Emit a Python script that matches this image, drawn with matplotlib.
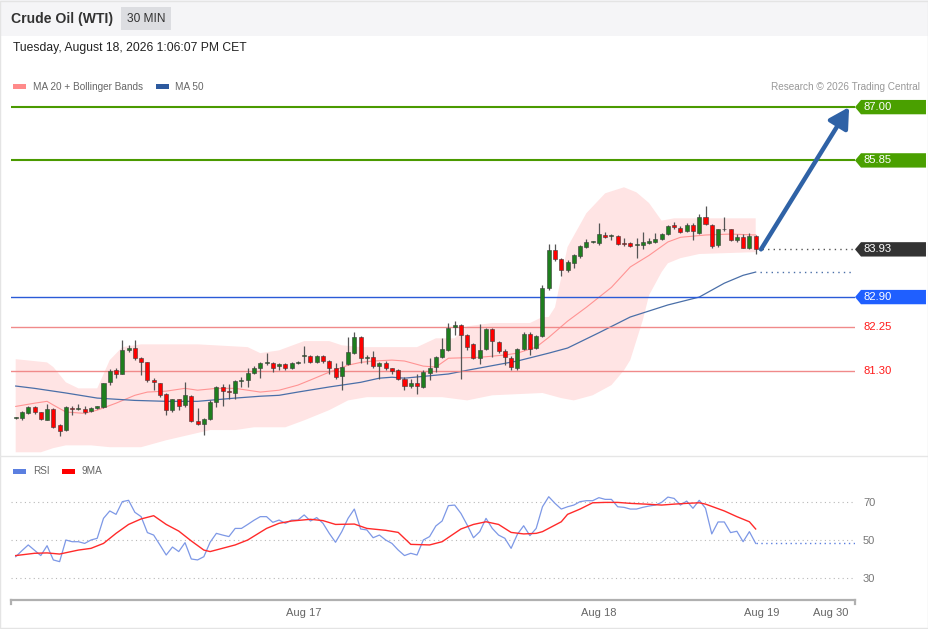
import numpy as np
import matplotlib
matplotlib.use('Agg')
import matplotlib.pyplot as plt
from matplotlib.patches import Polygon, Rectangle

plt.rcParams['font.family'] = ['Liberation Sans', 'DejaVu Sans']

# ---- 30 min candles ----
opens = [80.29, 80.28, 80.39, 80.53, 80.41, 80.25, 80.48, 80.14, 80.03, 80.51,
         80.49, 80.48, 80.44, 80.51, 80.53, 81.06, 81.32, 81.25, 81.76, 81.81,
         81.58, 81.49, 81.12, 81.04, 80.80, 80.46, 80.69, 80.57, 80.76, 80.23,
         80.17, 80.26, 80.64, 80.95, 80.87, 80.83, 81.09, 81.12, 81.26, 81.37,
         81.48, 81.48, 81.41, 81.45, 81.37, 81.48, 81.62, 81.62, 81.50, 81.62,
         81.52, 81.36, 81.19, 81.45, 81.70, 82.03, 81.59, 81.61, 81.41, 81.48,
         81.36, 81.32, 81.14, 80.99, 81.04, 80.96, 81.27, 81.40, 81.61, 81.76,
         82.25, 82.29, 82.09, 81.88, 81.59, 81.78, 82.22, 81.93, 81.73, 81.59,
         81.37, 81.78, 82.11, 81.81, 82.06, 83.09, 83.91, 83.73, 83.48, 83.64,
         83.78, 83.98, 84.08, 84.07, 84.24, 84.21, 84.21, 84.06, 84.06, 84.02,
         84.03, 84.07, 84.09, 84.16, 84.26, 84.45, 84.40, 84.33, 84.45, 84.29,
         84.63, 84.45, 84.02, 84.36, 84.36, 84.14, 84.19, 83.95, 84.21]
highs = [80.31, 80.44, 80.55, 80.55, 80.42, 80.60, 80.51, 80.17, 80.55, 80.55,
         80.60, 80.55, 80.53, 80.55, 81.05, 81.34, 81.36, 81.97, 81.86, 81.97,
         81.61, 81.50, 81.16, 81.05, 80.82, 80.71, 80.71, 81.07, 80.79, 80.50,
         80.30, 80.67, 80.98, 81.03, 81.03, 81.11, 81.18, 81.37, 81.41, 81.50,
         81.70, 81.50, 81.48, 81.48, 81.50, 81.52, 81.84, 81.64, 81.64, 81.64,
         81.54, 81.48, 81.52, 82.04, 82.15, 82.05, 81.64, 81.74, 81.50, 81.52,
         81.37, 81.35, 81.18, 81.13, 81.25, 81.32, 81.59, 81.63, 82.02, 82.35,
         82.38, 82.31, 82.11, 81.90, 82.31, 82.24, 82.24, 81.95, 81.79, 81.63,
         81.81, 82.14, 82.14, 82.09, 83.17, 84.04, 84.04, 83.75, 83.70, 83.84,
         84.02, 84.16, 84.11, 84.50, 84.31, 84.27, 84.24, 84.17, 84.09, 84.17,
         84.31, 84.17, 84.29, 84.29, 84.45, 84.52, 84.43, 84.49, 84.49, 84.70,
         84.86, 84.47, 84.38, 84.62, 84.38, 84.27, 84.27, 84.29, 84.24]
lows = [80.27, 80.25, 80.37, 80.38, 80.25, 80.24, 80.07, 79.91, 80.01, 80.35,
        80.46, 80.38, 80.42, 80.48, 80.51, 81.00, 81.16, 81.23, 81.72, 81.54,
        81.22, 81.07, 80.89, 80.75, 80.35, 80.42, 80.46, 80.53, 80.20, 80.14,
        79.92, 80.24, 80.52, 80.54, 80.71, 80.71, 80.96, 80.96, 81.23, 81.16,
        81.43, 81.28, 81.32, 81.32, 81.34, 81.45, 81.48, 81.48, 81.48, 81.48,
        81.23, 81.14, 80.90, 81.43, 81.68, 81.48, 81.45, 81.36, 81.14, 81.32,
        81.23, 81.11, 80.89, 80.94, 80.80, 80.93, 81.11, 81.29, 81.59, 81.73,
        82.08, 81.13, 81.76, 81.56, 81.45, 81.76, 81.61, 81.70, 81.43, 81.33,
        81.33, 81.76, 81.65, 81.78, 82.04, 83.05, 83.68, 83.36, 83.45, 83.52,
        83.75, 83.96, 84.06, 84.02, 84.17, 84.13, 84.02, 84.00, 83.98, 83.75,
        83.93, 84.04, 84.06, 84.14, 84.24, 84.38, 84.29, 84.31, 84.14, 84.27,
        84.45, 83.97, 83.98, 84.33, 84.11, 84.09, 83.95, 83.93, 83.84]
closes = [80.30, 80.41, 80.53, 80.42, 80.27, 80.48, 80.09, 80.02, 80.53, 80.49,
          80.50, 80.43, 80.50, 80.54, 81.04, 81.31, 81.25, 81.76, 81.81, 81.58,
          81.49, 81.12, 81.06, 80.79, 80.46, 80.69, 80.55, 80.79, 80.22, 80.17,
          80.26, 80.64, 80.95, 80.87, 80.85, 81.09, 81.12, 81.26, 81.37, 81.48,
          81.49, 81.37, 81.45, 81.38, 81.48, 81.49, 81.62, 81.50, 81.62, 81.52,
          81.36, 81.18, 81.39, 81.72, 82.04, 81.59, 81.60, 81.41, 81.48, 81.36,
          81.31, 81.13, 80.99, 81.04, 80.99, 81.29, 81.37, 81.61, 81.78, 82.24,
          82.29, 82.09, 81.83, 81.59, 81.75, 82.21, 81.95, 81.73, 81.61, 81.40,
          81.78, 82.11, 81.79, 82.06, 83.10, 83.91, 83.72, 83.48, 83.66, 83.80,
          84.00, 84.09, 84.09, 84.26, 84.20, 84.21, 84.04, 84.04, 84.00, 84.02,
          84.09, 84.11, 84.16, 84.26, 84.43, 84.42, 84.31, 84.45, 84.33, 84.63,
          84.47, 84.00, 84.36, 84.36, 84.14, 84.20, 83.97, 84.21, 83.93]

# ---- indicators, sampled at candle index ----
bb_up_idx = [0, 5, 6, 8, 10, 13, 15, 17, 20, 29, 37, 39, 42, 46, 50, 52, 55, 64, 67, 70,
             72, 76, 82, 84, 85, 86, 88, 91, 94, 97, 99, 101, 103, 105, 118]
bb_up = [81.56, 81.49, 81.39, 81.06, 80.93, 80.93, 81.54, 81.82, 81.88, 81.88, 81.82,
         81.69, 81.75, 81.95, 81.95, 81.86, 81.82, 81.82, 82.01, 82.01, 82.27, 82.34,
         82.34, 82.47, 82.47, 82.68, 83.98, 84.71, 85.14, 85.27, 85.16, 84.93, 84.55,
         84.60, 84.60]
bb_lo_idx = [0, 4, 6, 8, 12, 15, 20, 24, 31, 35, 38, 43, 46, 50, 53, 56, 68, 72, 76, 84,
             87, 89, 92, 95, 97, 98, 100, 101, 103, 104, 106, 109, 118]
bb_lo = [79.55, 79.55, 79.64, 79.70, 79.70, 79.66, 79.66, 79.81, 80.03, 80.03, 80.09,
         80.09, 80.24, 80.46, 80.67, 80.74, 80.74, 80.67, 80.78, 80.83, 80.72, 80.67,
         80.78, 81.00, 81.32, 81.54, 82.40, 82.94, 83.44, 83.63, 83.74, 83.83, 83.87]
ma20_idx = [0, 3, 5, 6, 8, 11, 13, 16, 19, 21, 24, 27, 29, 32, 35, 37, 39, 42, 45, 47,
            50, 53, 55, 57, 60, 62, 65, 67, 69, 74, 78, 80, 83, 85, 88, 91, 95, 98, 101,
            104, 106, 110, 114, 118]
ma20 = [80.54, 80.61, 80.65, 80.57, 80.42, 80.39, 80.46, 80.61, 80.78, 80.85, 80.87,
        80.93, 80.89, 80.93, 80.93, 80.89, 80.85, 80.89, 81.00, 81.11, 81.28, 81.43,
        81.49, 81.52, 81.54, 81.52, 81.41, 81.39, 81.58, 81.60, 81.65, 81.69, 81.82,
        82.03, 82.38, 82.68, 83.11, 83.55, 83.80, 84.09, 84.19, 84.24, 84.26, 84.24]
ma50_idx = [0, 3, 8, 13, 19, 24, 29, 35, 39, 42, 45, 50, 55, 58, 60, 62, 69, 72, 80, 85,
            88, 93, 98, 104, 109, 113, 116, 118]
ma50 = [80.98, 80.93, 80.83, 80.72, 80.67, 80.65, 80.65, 80.72, 80.76, 80.78, 80.85,
        80.96, 81.06, 81.15, 81.17, 81.15, 81.24, 81.32, 81.52, 81.69, 81.80, 82.13,
        82.47, 82.73, 82.90, 83.20, 83.37, 83.44]

rsi = [41.2, 44.4, 47.4, 44.6, 41.8, 47.0, 39.5, 38.6, 50.0, 49.1,
       49.1, 48.2, 50.0, 50.9, 61.4, 65.3, 63.5, 70.2, 70.9, 64.6,
       62.3, 53.9, 52.6, 47.4, 42.1, 46.3, 43.9, 48.6, 40.0, 39.5,
       41.2, 48.8, 53.5, 52.6, 51.8, 56.1, 56.1, 58.2, 60.4, 62.3,
       62.3, 59.3, 60.5, 58.8, 60.5, 60.5, 63.2, 60.0, 61.8, 58.8,
       53.5, 48.8, 54.4, 61.4, 66.3, 55.8, 55.3, 51.2, 52.6, 50.0,
       48.2, 44.7, 41.8, 43.0, 42.1, 50.0, 51.8, 57.4, 60.0, 68.1,
       68.4, 64.0, 57.9, 51.2, 54.4, 61.4, 56.1, 52.6, 50.9, 45.6,
       53.0, 57.5, 52.3, 56.1, 67.5, 72.8, 69.3, 66.3, 67.5, 68.4,
       70.2, 70.7, 70.7, 72.3, 71.4, 71.4, 67.5, 67.2, 66.3, 66.3,
       67.2, 67.9, 68.4, 69.8, 72.6, 71.9, 68.4, 70.5, 66.7, 70.9,
       66.7, 53.2, 59.5, 59.5, 53.9, 54.6, 49.1, 54.4, 48.2]
ma9_idx = [0, 3, 5, 7, 10, 12, 14, 16, 18, 20, 22, 24, 26, 28, 30, 31, 35, 37, 40, 42,
           44, 47, 49, 51, 54, 56, 59, 61, 63, 66, 68, 71, 73, 75, 77, 79, 81, 83, 84,
           87, 88, 90, 92, 94, 96, 98, 101, 103, 105, 107, 109, 110, 113, 115, 117, 118]
ma9 = [41.8, 43.0, 43.2, 42.6, 44.7, 45.6, 48.2, 53.5, 58.2, 61.1, 62.8, 58.2, 54.7,
       49.5, 44.7, 43.9, 47.4, 50.0, 56.1, 58.8, 60.0, 60.9, 60.2, 58.2, 58.4, 56.1,
       55.1, 54.0, 47.7, 47.4, 49.1, 55.8, 58.2, 59.6, 58.2, 54.0, 53.2, 53.5, 54.4,
       59.6, 63.5, 66.3, 69.6, 69.8, 69.8, 69.3, 68.8, 68.4, 68.9, 69.3, 69.6, 68.9,
       65.3, 62.3, 59.6, 55.8]

# key levels
resist = [87.00, 85.85]
pivot = 82.90
support = [82.25, 81.30]
target = 87.00

tick_pos = [46, 93, 119, 130]
tick_labels = ['Aug 17', 'Aug 18', 'Aug 19', 'Aug 30']

n = len(closes)
idx = np.arange(n)
last = n - 1
xmin, xmax = -0.75, 133.84

fig = plt.figure(figsize=(9.29, 6.29), dpi=100)

# decoration layer in pixel coords
deco = fig.add_axes([0, 0, 1, 1], zorder=0)
deco.set_xlim(0, 929)
deco.set_ylim(629, 0)
deco.axis('off')
deco.add_patch(Rectangle((0, 0), 929, 36, color='#f5f5f7', lw=0))
deco.add_patch(Rectangle((121, 7), 50, 23, color='#dcdde1', lw=0))
deco.text(11, 19, 'Crude Oil (WTI)', fontsize=10.1, fontweight='bold', color='#333333', va='center')
deco.text(146, 19, '30 MIN', fontsize=8.6, color='#333333', va='center', ha='center')
deco.text(13, 48.5, 'Tuesday, August 18, 2026 1:06:07 PM CET', fontsize=8.75, color='#222222', va='center')
deco.add_patch(Rectangle((13, 84), 13, 4.5, color='#ff8a8a', lw=0))
deco.text(33, 86.5, 'MA 20 + Bollinger Bands', fontsize=7.2, color='#666666', va='center')
deco.add_patch(Rectangle((156, 84), 13, 4.5, color='#2d5a9e', lw=0))
deco.text(175, 86.5, 'MA 50', fontsize=7.2, color='#666666', va='center')
deco.text(920, 86.5, 'Research \u00a9 2026 Trading Central', fontsize=7.2, color='#999999', va='center', ha='right')
deco.add_patch(Rectangle((13, 469), 13, 4.5, color='#5b7fe0', lw=0))
deco.text(33, 471.5, 'RSI', fontsize=7.2, color='#666666', va='center')
deco.add_patch(Rectangle((62, 469), 13, 4.5, color='#ff0000', lw=0))
deco.text(82, 471.5, '9MA', fontsize=7.2, color='#666666', va='center')
deco.plot([0, 929], [456, 456], color='#e6e6e6', lw=1)
deco.add_patch(Rectangle((0.5, 0.5), 928, 627, fill=False, ec='#e4e4e4', lw=1))

# ---- main price panel ----
ax = fig.add_axes([11 / 929, 1 - 456 / 629, 844 / 929, 360 / 629], zorder=2)
ax.patch.set_alpha(0)
ax.set_xlim(xmin, xmax)
ax.set_ylim(79.47, 87.24)
ax.axis('off')

ax.fill(np.r_[bb_up_idx, bb_lo_idx[::-1]], np.r_[bb_up, bb_lo[::-1]], color='#ffe4e4', lw=0, zorder=1)
ax.plot(ma20_idx, ma20, color='#ff9494', lw=0.8, zorder=2)
ax.plot(ma50_idx, ma50, color='#4a6fa8', lw=0.9, zorder=2)

for v in resist:
    ax.axhline(v, color='#4a9a00', lw=1.5, zorder=2)
ax.axhline(pivot, color='#2a5bd7', lw=1, zorder=2)
for v in support:
    ax.axhline(v, color='#f08a8a', lw=1, zorder=2)

o = np.array(opens)
c = np.array(closes)
up = c >= o
cols = np.where(up, '#1e7e1e', '#ff0000')
ax.vlines(idx, lows, highs, color='#555555', lw=0.9, zorder=3)
ax.bar(idx, np.maximum(np.abs(c - o), 0.02), bottom=np.minimum(o, c), width=0.64,
       color=cols, edgecolor='#3a3a3a', linewidth=0.4, zorder=4)

# projections past the last candle
ax.plot([last + 1, xmax], [closes[-1]] * 2, color='#555555', ls=(0, (1, 3)), lw=1, zorder=3)
ax.plot([last + 0.7, xmax - 0.3], [ma50[-1]] * 2, color='#4a6fa8', ls=(0, (1, 3)), lw=1, zorder=3)
ax.annotate('', xy=(132.9, target), xytext=(last + 0.85, closes[-1]),
            arrowprops=dict(arrowstyle='-|>,head_length=0.75,head_width=0.42', color='#2f62a6',
                            lw=3.2, shrinkA=0, shrinkB=0, mutation_scale=16), zorder=6)

# right side price tags
tr = ax.get_yaxis_transform()
h = 0.155
x0, x1, x2 = 1.0, 1.0071, 1.0841
tags = [(resist[0], '#4aa000'), (resist[1], '#4aa000'), (closes[-1], '#333333'), (pivot, '#1f5fff')]
for v, col in tags:
    ax.add_patch(Polygon([(x0, v), (x1, v + h), (x2, v + h), (x2, v - h), (x1, v - h)],
                         closed=True, color=col, transform=tr, clip_on=False, lw=0))
    ax.text(1.0095, v, f'{v:.2f}', transform=tr, color='white', fontsize=8.1, va='center', clip_on=False)
for v in support:
    ax.text(1.0095, v, f'{v:.2f}', transform=tr, color='#ff1a1a', fontsize=8.1, va='center', clip_on=False)

# ---- RSI panel ----
rax = fig.add_axes([11 / 929, 1 - 600 / 629, 844 / 929, 120 / 629], zorder=2)
rax.patch.set_alpha(0)
rax.set_xlim(xmin, xmax)
rax.set_ylim(18.4, 81.6)
for s in ['top', 'left', 'right']:
    rax.spines[s].set_visible(False)
rax.spines['bottom'].set_color('#b0b0b0')
rax.spines['bottom'].set_linewidth(1.6)
rax.set_yticks([])
rax.set_xticks(tick_pos)
rax.set_xticklabels(tick_labels)
rax.tick_params(axis='x', length=0, pad=6, labelsize=8, labelcolor='#666666')
for xe in (0, 1):
    rax.plot([xe, xe], [0, -0.035], transform=rax.transAxes, clip_on=False, color='#b0b0b0', lw=1.6)

rtr = rax.get_yaxis_transform()
for v in (30, 50, 70):
    rax.axhline(v, color='#b8b8b8', ls=(0, (1, 3)), lw=0.8)
    rax.text(1.0095, v, str(v), transform=rtr, color='#777777', fontsize=8, va='center_baseline')

rax.plot(idx, rsi, color='#7d98e6', lw=0.9, zorder=3)
rax.plot(ma9_idx, ma9, color='#ff2a2a', lw=1.0, zorder=3)
rax.plot([last, xmax], [rsi[-1]] * 2, color='#5b7fe0', ls=(0, (1, 2.5)), lw=1, zorder=3)

fig.savefig('out.png', dpi=100)
